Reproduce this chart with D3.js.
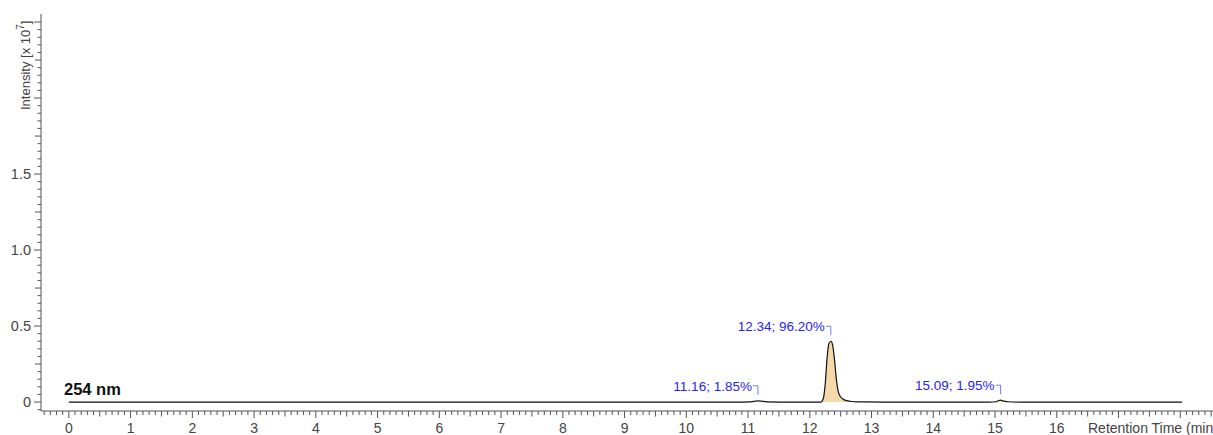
<!DOCTYPE html>
<html>
<head>
<meta charset="utf-8">
<script src="https://cdn.jsdelivr.net/npm/d3@7"></script>
<style>
  html, body { margin: 0; padding: 0; background: #fff; }
  svg { display: block; font-family: "Liberation Sans", Arial, sans-serif; }
</style>
</head>
<body>
<svg id="chart" width="1213" height="435"></svg>
<script>
// Chromatogram trace at 254 nm: retention time (min) and intensity (x 10^7)
const traceTime = [0, 10.9, 11.05, 11.12, 11.16, 11.21, 11.30, 11.6, 12.18, 12.22, 12.25, 12.28, 12.31, 12.343, 12.37, 12.40, 12.43, 12.46, 12.50, 12.56, 12.65, 12.78, 13.2, 14.9, 15.02, 15.06, 15.09, 15.13, 15.2, 15.4, 18.03];
const traceIntensity = [0, 0, 0.001, 0.006, 0.008, 0.006, 0.001, 0, 0, 0.025, 0.12, 0.29, 0.385, 0.40, 0.375, 0.28, 0.15, 0.07, 0.033, 0.014, 0.005, 0.001, 0, 0, 0.002, 0.01, 0.012, 0.008, 0.002, 0, 0];

// Integrated peaks: apex time, area %, integration window
const peakTimes = [11.16, 12.34, 15.09];
const peakAreas = [1.85, 96.20, 1.95];
const peakStart = [11.05, 12.18, 15.0];
const peakEnd = [11.30, 12.78, 15.25];

// Axis ticks
const xTickLabels = [0, 1, 2, 3, 4, 5, 6, 7, 8, 9, 10, 11, 12, 13, 14, 15, 16];
const yTickLabels = [0, 0.5, 1.0, 1.5];

const channelLabel = "254 nm";
// axis title as it fits at the right edge of the plot
const xTitle = "Retention Time (min";

const svg = d3.select("#chart");
const axisColor = "#555";
const textColor = "#444";
const labelBlue = "#2525f5";

// Scales: 0 min at x≈68.8, 61.75 px/min; 0 at y=402, 152 px per 10^7
const x = d3.scaleLinear().domain([-0.451, 18.53]).range([41, 1213]);
const y = d3.scaleLinear().domain([-0.059, 2.553]).range([411, 14]);

const points = traceTime.map((t, i) => ({ t, v: traceIntensity[i] }));

// Peak fills
const area = d3.area()
  .x(d => x(d.t)).y0(y(0)).y1(d => y(d.v))
  .curve(d3.curveMonotoneX);
peakStart.forEach((s, i) => {
  const seg = points.filter(p => p.t >= s && p.t <= peakEnd[i]);
  svg.append("path").datum(seg)
    .attr("d", area)
    .attr("fill", "#f5d9aa")
    .attr("stroke", "none");
});

// Trace line
const line = d3.line().x(d => x(d.t)).y(d => y(d.v)).curve(d3.curveMonotoneX);
svg.append("path").datum(points)
  .attr("d", line)
  .attr("fill", "none")
  .attr("stroke", "#111")
  .attr("stroke-width", 1.2);

// Y axis
const yAxisG = svg.append("g").attr("transform", "translate(41,0)");
yAxisG.append("line")
  .attr("x1", 0).attr("x2", 0).attr("y1", 14).attr("y2", 411)
  .attr("stroke", axisColor);
const yMinor = d3.range(-1, 51).map(k => k * 0.05);
yMinor.forEach(v => {
  const k = Math.round(v / 0.05);
  const len = k % 10 === 0 ? 7 : (k % 5 === 0 ? 6 : 3.5);
  yAxisG.append("line")
    .attr("x1", -len).attr("x2", 0)
    .attr("y1", y(v)).attr("y2", y(v))
    .attr("stroke", axisColor);
});
const yFmt = d3.format(".1f");
yAxisG.selectAll("text.ytick").data(yTickLabels).join("text")
  .attr("class", "ytick")
  .attr("x", -10).attr("y", d => y(d) + 5)
  .attr("text-anchor", "end")
  .attr("font-size", 14.5)
  .attr("fill", textColor)
  .text(d => d === 0 ? "0" : yFmt(d));

// Y axis title with superscript exponent
const yTitle = svg.append("text")
  .attr("transform", "translate(29.5,110) rotate(-90)")
  .attr("font-size", 13)
  .attr("fill", textColor);
yTitle.append("tspan").text("Intensity [x 10");
yTitle.append("tspan").attr("font-size", 10).attr("dy", -6).text("7");
yTitle.append("tspan").attr("dy", 6).text("]");

// X axis
const xAxisG = svg.append("g").attr("transform", "translate(0,411)");
xAxisG.append("line")
  .attr("x1", 41).attr("x2", 1213).attr("y1", 0).attr("y2", 0)
  .attr("stroke", axisColor);
const xMinor = d3.range(-4, 186).map(k => k * 0.1);
xMinor.forEach(t => {
  const k = Math.round(t * 10);
  const len = k % 10 === 0 ? 7 : (k % 5 === 0 ? 5.5 : 4);
  xAxisG.append("line")
    .attr("x1", x(t)).attr("x2", x(t))
    .attr("y1", 0).attr("y2", len)
    .attr("stroke", axisColor);
});
xAxisG.selectAll("text.xtick").data(xTickLabels).join("text")
  .attr("class", "xtick")
  .attr("x", d => x(d)).attr("y", 22)
  .attr("text-anchor", "middle")
  .attr("font-size", 14)
  .attr("fill", textColor)
  .text(d => d);
svg.append("text")
  .attr("x", 1088).attr("y", 433)
  .attr("font-size", 14)
  .attr("fill", textColor)
  .text(xTitle);

// Channel label
svg.append("text")
  .attr("x", 64).attr("y", 395)
  .attr("font-size", 16.5)
  .attr("font-weight", "bold")
  .attr("fill", "#111")
  .text(channelLabel);

// Peak annotations with bracket markers
const apexValue = t => {
  let best = points[0];
  points.forEach(p => { if (Math.abs(p.t - t) < Math.abs(best.t - t)) best = p; });
  return best.v;
};
peakTimes.forEach((t, i) => {
  const px = x(t);
  const topY = y(apexValue(t)) - 15;
  const g = svg.append("g");
  g.append("path")
    .attr("d", `M${px - 5},${topY} H${px} V${topY + 9}`)
    .attr("fill", "none")
    .attr("stroke", "#7a7af0")
    .attr("stroke-width", 1);
  g.append("text")
    .attr("x", px - 6).attr("y", topY + 5)
    .attr("text-anchor", "end")
    .attr("font-size", 13.5)
    .attr("fill", labelBlue)
    .text(`${t.toFixed(2)}; ${peakAreas[i].toFixed(2)}%`);
});
</script>
</body>
</html>
